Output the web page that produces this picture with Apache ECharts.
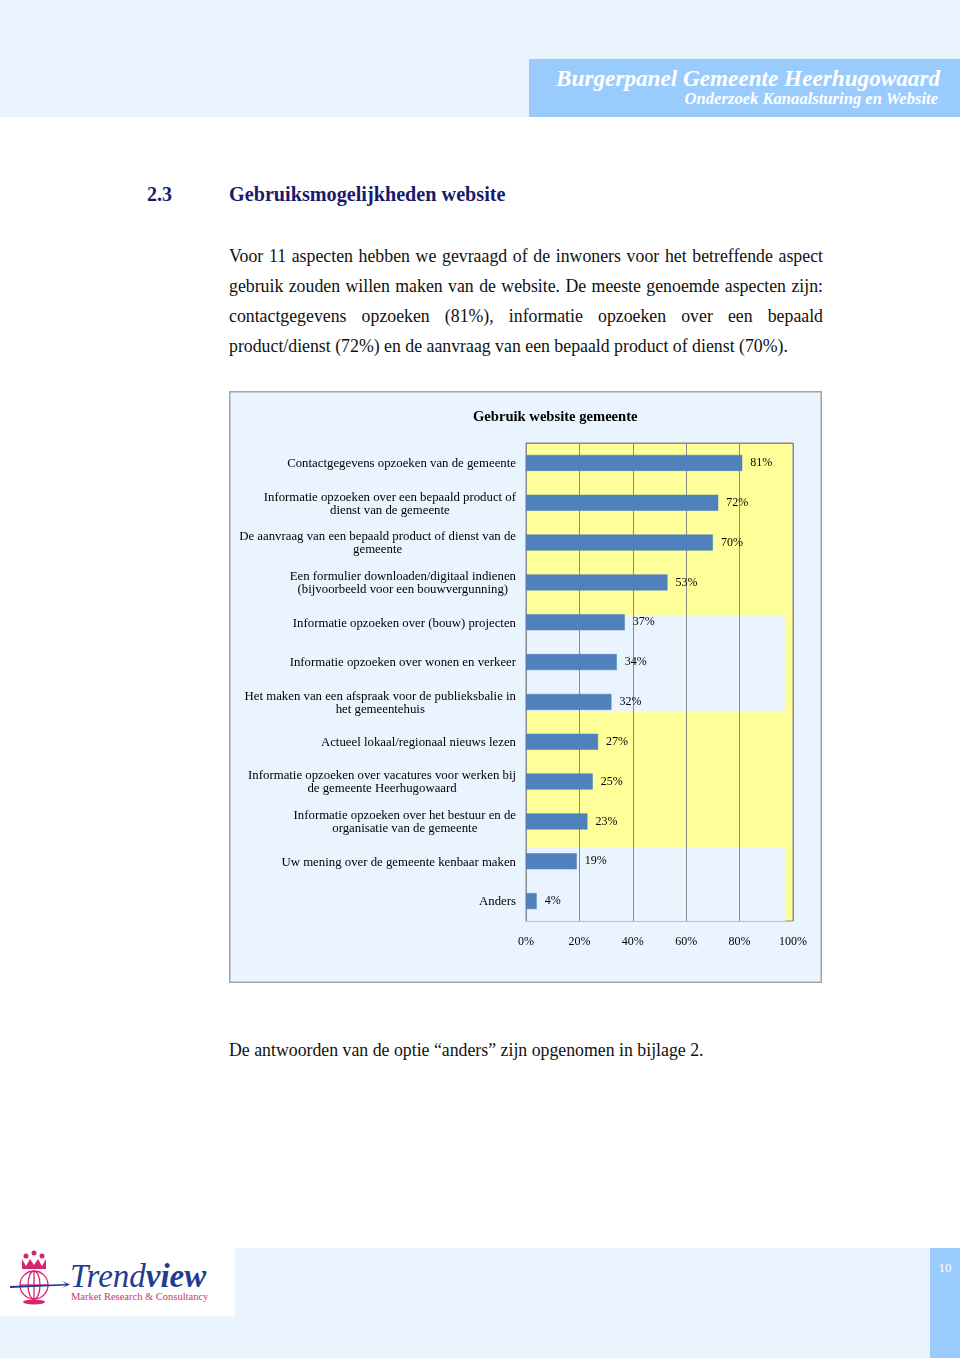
<!DOCTYPE html>
<html>
<head>
<meta charset="utf-8">
<script src="https://cdn.jsdelivr.net/npm/echarts@6/dist/echarts.min.js"></script>
<style>
  html, body { margin:0; padding:0; background:#fff; }
  body { width:960px; height:1358px; position:relative; overflow:hidden; font-family:"Liberation Serif", serif; color:#111; }
  .abs { position:absolute; }
  .line { position:absolute; left:229px; width:594px; height:30px; line-height:30px; font-size:17.8px; text-align:justify; text-align-last:justify; white-space:nowrap; }
  .line.last { text-align-last:left; }
</style>
</head>
<body>
<!-- header -->
<div class="abs" style="left:0;top:0;width:960px;height:117px;background:#EAF4FE"></div>
<div class="abs" style="left:529px;top:59px;width:431px;height:58px;background:#9ACBFD"></div>
<div class="abs" style="right:20px;top:64px;font-size:23.2px;line-height:28px;font-weight:bold;font-style:italic;color:#fff;white-space:nowrap">Burgerpanel Gemeente Heerhugowaard</div>
<div class="abs" style="right:22px;top:89px;font-size:16.6px;line-height:20px;font-weight:bold;font-style:italic;color:#fff;white-space:nowrap">Onderzoek Kanaalsturing en Website</div>

<!-- heading -->
<div class="abs" style="left:147px;top:182px;font-size:20px;line-height:24px;font-weight:bold;color:#1A1A6B">2.3</div>
<div class="abs" style="left:229px;top:182px;font-size:20.2px;line-height:24px;font-weight:bold;color:#1A1A6B">Gebruiksmogelijkheden website</div>

<!-- body text -->
<div class="line" style="top:241px">Voor 11 aspecten hebben we gevraagd of de inwoners voor het betreffende aspect</div>
<div class="line" style="top:271px">gebruik zouden willen maken van de website. De meeste genoemde aspecten zijn:</div>
<div class="line" style="top:301px">contactgegevens opzoeken (81%), informatie opzoeken over een bepaald</div>
<div class="line last" style="top:331px">product/dienst (72%) en de aanvraag van een bepaald product of dienst (70%).</div>

<!-- chart -->
<div id="chart" class="abs" style="left:229px;top:391px;width:593px;height:592px"></div>

<div class="line last" style="top:1035px">De antwoorden van de optie “anders” zijn opgenomen in bijlage 2.</div>

<!-- footer -->
<div class="abs" style="left:0;top:1248px;width:930px;height:110px;background:#EAF4FE"></div>
<div class="abs" style="left:0;top:1248px;width:235px;height:68px;background:#fff"></div>
<div class="abs" style="left:930px;top:1248px;width:30px;height:110px;background:#9ACBFD"></div>
<div class="abs" style="left:930px;top:1259px;width:30px;text-align:center;font-size:13px;line-height:18px;color:#fff">10</div>
<svg class="abs" style="left:6px;top:1250px" width="64" height="58" viewBox="0 0 64 58">
  <g fill="#D6246E">
    <circle cx="20" cy="6" r="2.5"/><circle cx="28" cy="3" r="2.5"/><circle cx="36" cy="6" r="2.5"/>
    <path d="M16 9 L20 16 L24 9 L28 15 L32 9 L36 16 L40 9 L40 19 L16 19 Z"/>
    <ellipse cx="28" cy="52" rx="11" ry="2.5"/>
  </g>
  <g fill="none" stroke="#D6246E" stroke-width="1.3">
    <circle cx="28" cy="35" r="14"/>
    <ellipse cx="28" cy="35" rx="6" ry="14"/>
    <line x1="14" y1="35" x2="42" y2="35"/>
    <line x1="28" y1="21" x2="28" y2="49"/>
  </g>
  <path d="M4 36 L60 34 L56 31 L64 34.5 L56 38 L60 35.5 L4 38 Z" fill="#1F3C8F"/>
</svg>
<div class="abs" style="left:70px;top:1258px;font-size:33px;line-height:36px;font-style:italic;color:#1F3C8F;white-space:nowrap">Trend<b>view</b></div>
<div class="abs" style="left:71px;top:1291px;font-size:10.5px;line-height:12px;color:#C03A73;white-space:nowrap">Market Research &amp; Consultancy</div>

<script>
// ---- data ----
const categories = [
  "Contactgegevens opzoeken van de gemeente",
  "Informatie opzoeken over een bepaald product of\ndienst van de gemeente",
  "De aanvraag van een bepaald product of dienst van de\ngemeente",
  "Een formulier downloaden/digitaal indienen\n(bijvoorbeeld voor een bouwvergunning)",
  "Informatie opzoeken over (bouw) projecten",
  "Informatie opzoeken over wonen en verkeer",
  "Het maken van een afspraak voor de publieksbalie in\nhet gemeentehuis",
  "Actueel lokaal/regionaal nieuws lezen",
  "Informatie opzoeken over vacatures voor werken bij\nde gemeente Heerhugowaard",
  "Informatie opzoeken over het bestuur en de\norganisatie van de gemeente",
  "Uw mening over de gemeente kenbaar maken",
  "Anders"
];
const values = [81, 72, 70, 53, 37, 34, 32, 27, 25, 23, 19, 4];
const xTicks = [0, 20, 40, 60, 80, 100];

const FONT = "Liberation Serif";
const chart = echarts.init(document.getElementById('chart'), null, { renderer: 'canvas' });

const option = {
  animation: false,
  backgroundColor: '#EAF4FE',
  title: {
    text: 'Gebruik website gemeente',
    left: 239, top: 14,
    textStyle: { fontFamily: FONT, fontWeight: 'bold', fontSize: 14.6, color: '#000' }
  },
  grid: { left: 297, right: 29, top: 52, bottom: 62, containLabel: false },
  xAxis: {
    type: 'value', min: xTicks[0], max: xTicks[xTicks.length - 1], interval: 20,
    axisLine: { show: true, lineStyle: { color: '#8A8A8A', width: 1 } },
    axisTick: { show: true, length: 5, lineStyle: { color: '#8A8A8A' } },
    axisLabel: { formatter: '{value}%', fontFamily: FONT, fontSize: 12, color: '#000', margin: 15 },
    splitLine: { show: true, lineStyle: { color: '#8A8A8A', width: 1 } }
  },
  yAxis: [{
    type: 'category', data: categories, inverse: true,
    axisLine: { show: true, lineStyle: { color: '#8A8A8A', width: 1 } },
    axisTick: { show: false },
    axisLabel: {
      margin: 10, fontFamily: FONT, fontSize: 12.8, color: '#000', lineHeight: 13,
      formatter: function (v) { return v.split('\n').map(s => '{c|' + s + '}').join('\n'); },
      rich: { c: { align: 'center', fontFamily: FONT, fontSize: 12.8, lineHeight: 13, color: '#000', padding: [2, 0, 0, 0] } }
    }
  }, {
    type: 'value', min: 0, max: categories.length, inverse: true, show: false
  }],
  series: [{
    type: 'bar', data: values, barWidth: 16,
    itemStyle: { color: '#4F81BD', borderColor: '#4A7DBA', borderWidth: 0.5 },
    label: { show: true, position: 'right', distance: 8, formatter: '{c}%', fontFamily: FONT, fontSize: 12, color: '#000', padding: [2, 0, 0, 0] }
  }]
};
chart.setOption(option);

// plot-area decoration (yellow fill with light-blue patches), placed through the axes
function bgRect(x0, x1, y0, y1, fill, stroke) {
  const a = chart.convertToPixel({ xAxisIndex: 0, yAxisIndex: 1 }, [x0, y0]);
  const b = chart.convertToPixel({ xAxisIndex: 0, yAxisIndex: 1 }, [x1, y1]);
  return {
    type: 'rect', z: -10, silent: true,
    shape: { x: a[0], y: a[1], width: b[0] - a[0], height: b[1] - a[1] },
    style: { fill: fill, stroke: stroke || null, lineWidth: stroke ? 1 : 0 }
  };
}
const n = categories.length;
chart.setOption({
  graphic: [
    { type: 'rect', z: -20, silent: true, shape: { x: 0.75, y: 0.75, width: 591.5, height: 590.5 },
      style: { fill: 'none', stroke: '#A3A3A3', lineWidth: 1.5 } },
    bgRect(0, 100, 0, n, '#FFFF99', '#8A8A8A'),
    bgRect(0, 97, 4.33, 6.74, '#EAF4FE'),
    bgRect(0, 97, 10.16, n, '#EAF4FE')
  ]
});
</script>
</body>
</html>
